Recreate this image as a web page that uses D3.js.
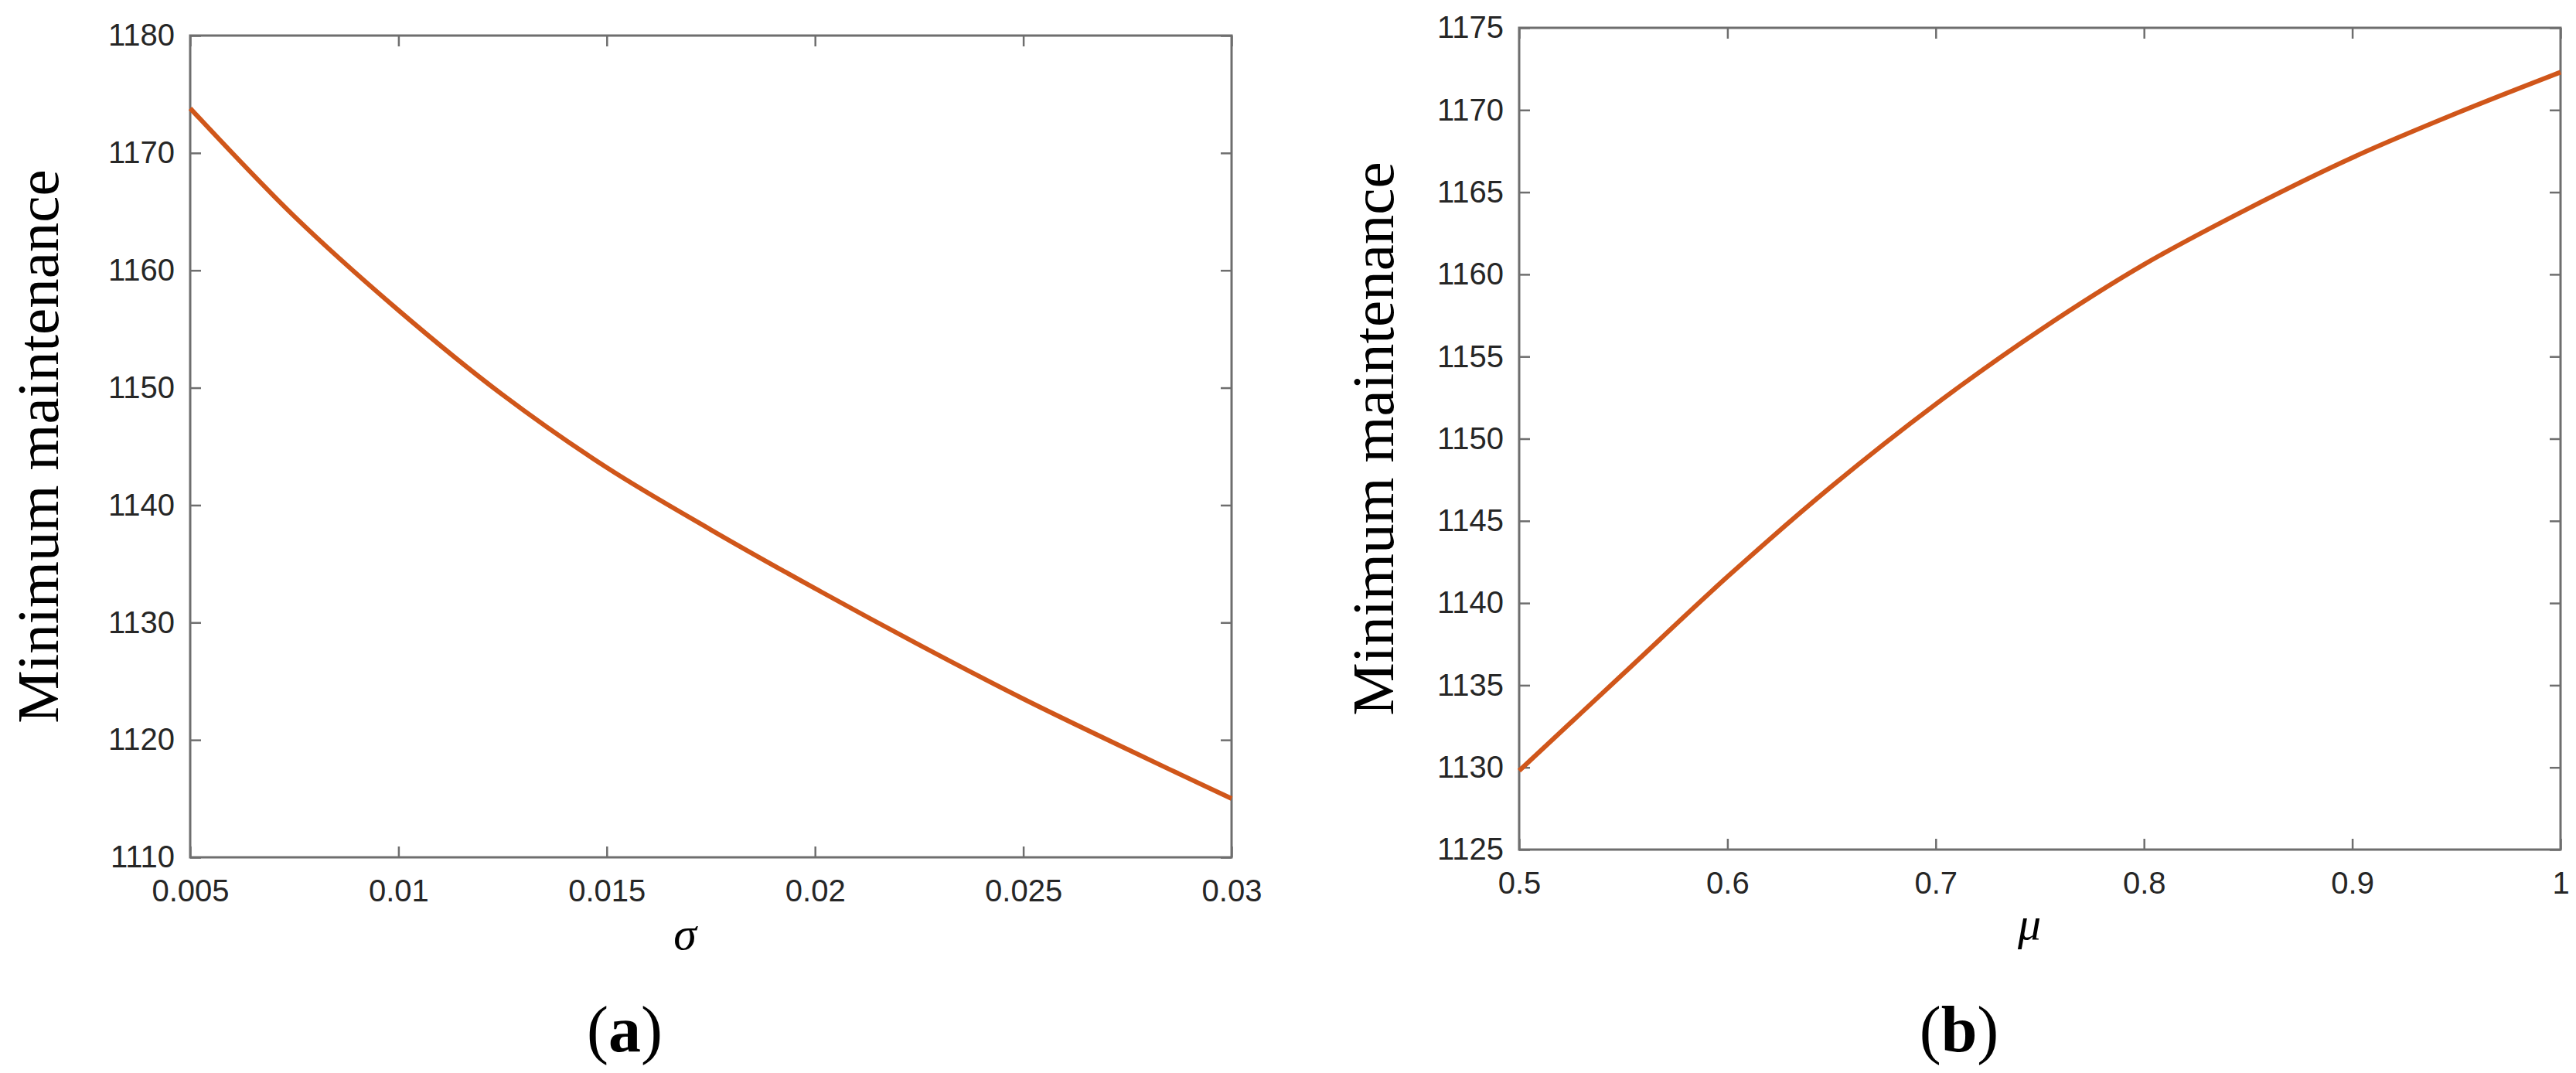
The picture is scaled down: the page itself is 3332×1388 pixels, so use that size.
<!DOCTYPE html>
<html>
<head>
<meta charset="utf-8">
<script src="https://cdn.jsdelivr.net/npm/d3@7"></script>
<style>
  body { margin: 0; background: #fff; }
  svg { display: block; }
  .tick text { font-family: "Liberation Sans", Arial, sans-serif; font-size: 40px; fill: #262626; }
  .tick line { stroke: #6e6e6e; stroke-width: 2.5; }
</style>
</head>
<body>
<div id="chart"></div>
<script>
// panel (a): minimum maintenance vs sigma
var sigmaX = [0.005, 0.0075, 0.01, 0.0125, 0.015, 0.0175, 0.02, 0.0225, 0.025, 0.0275, 0.03];
var sigmaY = [1173.8, 1164.6, 1156.6, 1149.4, 1143.2, 1137.9, 1132.9, 1128.1, 1123.5, 1119.2, 1115.0];
var sigmaXTicks = [0.005, 0.01, 0.015, 0.02, 0.025, 0.03];
var sigmaYTicks = [1110, 1120, 1130, 1140, 1150, 1160, 1170, 1180];

// panel (b): minimum maintenance vs mu
var muX = [0.5, 0.55, 0.6, 0.65, 0.7, 0.75, 0.8, 0.85, 0.9, 0.95, 1.0];
var muY = [1129.8, 1135.7, 1141.6, 1147.1, 1152.1, 1156.6, 1160.6, 1164.0, 1167.1, 1169.8, 1172.3];
var muXTicks = [0.5, 0.6, 0.7, 0.8, 0.9, 1];
var muYTicks = [1125, 1130, 1135, 1140, 1145, 1150, 1155, 1160, 1165, 1170, 1175];

var W = 3332, H = 1388;
var svg = d3.select("#chart").append("svg").attr("width", W).attr("height", H);

function drawPanel(opt){
  var left = opt.left, top = opt.top, width = opt.width, height = opt.height;
  var g = svg.append("g").attr("transform", "translate(" + left + "," + top + ")");

  var x = d3.scaleLinear().domain(opt.xDomain).range([0, width]);
  var y = d3.scaleLinear().domain(opt.yDomain).range([height, 0]);

  // bottom axis with labels
  g.append("g")
      .attr("transform", "translate(0," + height + ")")
      .call(d3.axisBottom(x).tickValues(opt.xTicks).tickSizeInner(-14).tickSizeOuter(0).tickPadding(29)
        .tickFormat(function(d){ return String(d); }))
      .select(".domain").remove();
  // left axis with labels
  g.append("g")
      .call(d3.axisLeft(y).tickValues(opt.yTicks).tickSizeInner(-14).tickSizeOuter(0).tickPadding(20)
        .tickFormat(function(d){ return String(d); }))
      .select(".domain").remove();
  // mirrored ticks top / right
  g.append("g")
      .call(d3.axisTop(x).tickValues(opt.xTicks).tickSizeInner(-14).tickSizeOuter(0).tickFormat(""))
      .select(".domain").remove();
  g.append("g")
      .attr("transform", "translate(" + width + ",0)")
      .call(d3.axisRight(y).tickValues(opt.yTicks).tickSizeInner(-14).tickSizeOuter(0).tickFormat(""))
      .select(".domain").remove();

  // box
  g.append("rect")
      .attr("x", 0).attr("y", 0)
      .attr("width", width).attr("height", height)
      .attr("fill", "none")
      .attr("stroke", "#6e6e6e")
      .attr("stroke-width", 3);

  var pts = opt.xs.map(function(v, i){ return [v, opt.ys[i]]; });
  var line = d3.line()
      .x(function(d){ return x(d[0]); })
      .y(function(d){ return y(d[1]); })
      .curve(d3.curveCatmullRom);

  g.append("path")
      .datum(pts)
      .attr("d", line)
      .attr("fill", "none")
      .attr("stroke", "#D0561A")
      .attr("stroke-width", 6)
      .attr("stroke-linejoin", "round");

  // y label
  svg.append("text")
      .attr("transform", "translate(" + opt.yLabelX + "," + (top + height / 2) + ") rotate(-90)")
      .attr("text-anchor", "middle")
      .attr("font-family", "'Liberation Serif', 'Times New Roman', serif")
      .attr("font-size", 77)
      .attr("fill", "#000")
      .text("Minimum maintenance");

  // x label
  svg.append("text")
      .attr("x", opt.xLabelX)
      .attr("y", opt.xLabelY)
      .attr("text-anchor", "middle")
      .attr("font-family", "'Liberation Serif', 'Times New Roman', serif")
      .attr("font-style", "italic")
      .attr("font-size", 60)
      .attr("fill", "#000")
      .text(opt.xLabel);

  // sub caption
  var cap = svg.append("text")
      .attr("x", opt.capX)
      .attr("y", 1360)
      .attr("text-anchor", "middle")
      .attr("font-family", "'Liberation Serif', 'Times New Roman', serif")
      .attr("font-size", 84)
      .attr("fill", "#000");
  cap.append("tspan").text("(");
  cap.append("tspan").attr("font-weight", "bold").text(opt.cap);
  cap.append("tspan").text(")");
}

drawPanel({
  left: 246, top: 46, width: 1347, height: 1063,
  xDomain: [0.005, 0.03], yDomain: [1110, 1180],
  xTicks: sigmaXTicks, yTicks: sigmaYTicks,
  xs: sigmaX, ys: sigmaY,
  yLabelX: 75, xLabel: "σ", xLabelX: 886, xLabelY: 1228,
  cap: "a", capX: 808
});

drawPanel({
  left: 1965, top: 36, width: 1347, height: 1063,
  xDomain: [0.5, 1], yDomain: [1125, 1175],
  xTicks: muXTicks, yTicks: muYTicks,
  xs: muX, ys: muY,
  yLabelX: 1802, xLabel: "μ", xLabelX: 2625, xLabelY: 1215,
  cap: "b", capX: 2534
});
</script>
</body>
</html>
